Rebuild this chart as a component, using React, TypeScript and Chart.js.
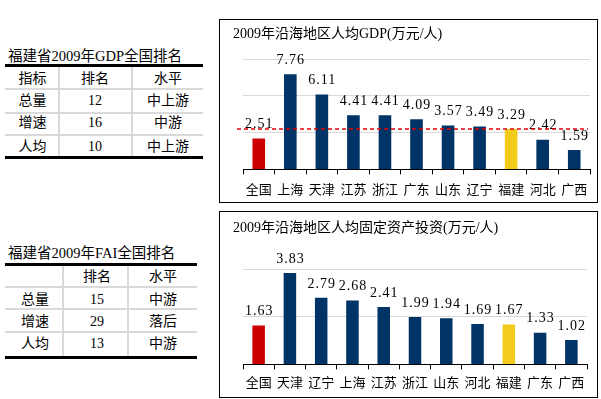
import React, { useEffect, useRef } from "react";
import { Chart, registerables } from "chart.js";
Chart.register(...registerables);

const FONT = '"Liberation Serif", "Noto Sans CJK SC", serif';

// ---- data ----
const gdpCategories = ["全国", "上海", "天津", "江苏", "浙江", "广东", "山东", "辽宁", "福建", "河北", "广西"];
const gdpValues = [2.51, 7.76, 6.11, 4.41, 4.41, 4.09, 3.57, 3.49, 3.29, 2.42, 1.59];
const gdpReference = 3.29; // 福建 level, dashed line
const gdpTitle = "2009年沿海地区人均GDP(万元/人)";

const faiCategories = ["全国", "天津", "辽宁", "上海", "江苏", "浙江", "山东", "河北", "福建", "广东", "广西"];
const faiValues = [1.63, 3.83, 2.79, 2.68, 2.41, 1.99, 1.94, 1.69, 1.67, 1.33, 1.02];
const faiTitle = "2009年沿海地区人均固定资产投资(万元/人)";

const gdpTableTitle = "福建省2009年GDP全国排名";
const gdpTableHeader = ["指标", "排名", "水平"];
const gdpTableRows = [
  ["总量", "12", "中上游"],
  ["增速", "16", "中游"],
  ["人均", "10", "中上游"],
];
const faiTableTitle = "福建省2009年FAI全国排名";
const faiTableHeader = ["", "排名", "水平"];
const faiTableRows = [
  ["总量", "15", "中游"],
  ["增速", "29", "落后"],
  ["人均", "13", "中游"],
];

const NAVY = "#003366";
const RED = "#CC0000";
const YELLOW = "#F2CB1B";

function barColor(cat: string) {
  if (cat === "全国") return RED;
  if (cat === "福建") return YELLOW;
  return NAVY;
}

const valueLabels = {
  id: "valueLabels",
  afterDatasetsDraw(chart: any) {
    const ctx = chart.ctx;
    const meta = chart.getDatasetMeta(0);
    const data = chart.data.datasets[0].data;
    ctx.save();
    ctx.font = "14px " + FONT;
    ctx.fillStyle = "#000";
    ctx.textAlign = "center";
    ctx.textBaseline = "middle";
    try { (ctx as any).letterSpacing = "1px"; } catch (e) {}
    meta.data.forEach((el: any, i: number) => {
      ctx.fillText(Number(data[i]).toFixed(2), el.x + 0.5, el.y - 14);
    });
    ctx.restore();
  },
};

function makeRefLine(value: number | null) {
  return {
    id: "refLine",
    afterDatasetsDraw(chart: any) {
      if (value === null) return;
      const { ctx, chartArea, scales } = chart;
      const y = Math.round(scales.y.getPixelForValue(value));
      ctx.save();
      ctx.strokeStyle = "#E60000";
      ctx.lineWidth = 1.5;
      ctx.setLineDash([4, 3]);
      ctx.beginPath();
      ctx.moveTo(chartArea.left - 6, y);
      ctx.lineTo(chartArea.right - 2, y);
      ctx.stroke();
      ctx.restore();
    },
  };
}

type BarProps = {
  categories: string[];
  values: number[];
  max: number;
  step: number;
  ref_: number | null;
  padding: { left: number; right: number; top: number; bottom: number };
  tickPad: number;
  w: number;
  h: number;
};

function BarChart({ categories, values, max, step, ref_, padding, tickPad, w, h }: BarProps) {
  const canvasRef = useRef<HTMLCanvasElement | null>(null);
  useEffect(() => {
    if (!canvasRef.current) return;
    const chart = new Chart(canvasRef.current, {
      type: "bar",
      data: {
        labels: categories,
        datasets: [
          {
            data: values,
            backgroundColor: categories.map(barColor),
            borderWidth: 0,
            categoryPercentage: 1,
            barPercentage: 0.4,
          },
        ],
      },
      options: {
        animation: false,
        responsive: false,
        maintainAspectRatio: false,
        layout: { padding },
        plugins: {
          legend: { display: false },
          tooltip: { enabled: false },
          title: { display: false },
        },
        scales: {
          x: {
            grid: {
              offset: true,
              drawOnChartArea: false,
              drawTicks: true,
              tickLength: 5,
              color: "#000",
            },
            border: { color: "#000", width: 1 },
            ticks: {
              color: "#000",
              font: { family: FONT, size: 13 },
              padding: tickPad,
              maxRotation: 0,
              autoSkip: false,
            },
          },
          y: {
            min: 0,
            max,
            ticks: { display: false, stepSize: step },
            border: { display: false },
            grid: {
              drawTicks: false,
              color: (c: any) => (c.tick && c.tick.value === 0 ? "rgba(0,0,0,0)" : "#D9D9D9"),
              lineWidth: 1,
            },
          },
        },
      },
      plugins: [valueLabels, makeRefLine(ref_)],
    });
    return () => chart.destroy();
  }, []);
  return <canvas ref={canvasRef} width={w} height={h} style={{ display: "block", width: w, height: h }} />;
}

function ChartBox({ left, top, width, height, title, titleY, children }: any) {
  return (
    <div
      style={{
        position: "absolute",
        left,
        top,
        width,
        height,
        border: "1px solid #000",
        boxSizing: "border-box",
        background: "#fff",
        overflow: "hidden",
      }}
    >
      <div style={{ position: "absolute", left: -1, top: -1 }}>{children}</div>
      <div
        style={{
          position: "absolute",
          left: 13,
          top: titleY,
          transform: "translateY(-50%)",
          font: "14px " + FONT,
          lineHeight: "16px",
          whiteSpace: "nowrap",
          color: "#000",
        }}
      >
        {title}
      </div>
    </div>
  );
}

function Txt({ x, y, text, size = 14, align = "center" }: any) {
  return (
    <div
      style={{
        position: "absolute",
        left: x,
        top: y,
        transform: align === "center" ? "translate(-50%,-50%)" : "translateY(-50%)",
        font: size + "px " + FONT,
        lineHeight: "16px",
        whiteSpace: "nowrap",
        color: "#000",
      }}
    >
      {text}
    </div>
  );
}

function HLine({ x1, x2, y, h, color }: any) {
  return <div style={{ position: "absolute", left: x1, top: y - h / 2, width: x2 - x1, height: h, background: color }} />;
}
function VLine({ x, y1, y2, w, color }: any) {
  return <div style={{ position: "absolute", left: x - w / 2, top: y1, width: w, height: y2 - y1, background: color }} />;
}

function RankTable({ title, header, rows, L }: any) {
  const els: any[] = [];
  els.push(<Txt key="t" x={8} y={L.titleY} text={title} size={14.5} align="left" />);
  els.push(<VLine key="v1" x={L.vx[0]} y1={L.topLine} y2={L.bottomLine} w={2} color="#D9D9D9" />);
  els.push(<VLine key="v2" x={L.vx[1]} y1={L.topLine} y2={L.bottomLine} w={2} color="#D9D9D9" />);
  L.grey.forEach((g: number, i: number) =>
    els.push(<HLine key={"g" + i} x1={L.x1} x2={L.x2} y={g} h={2} color="#D9D9D9" />)
  );
  els.push(<HLine key="top" x1={L.x1} x2={L.x2} y={L.topLine} h={3} color="#000" />);
  els.push(<HLine key="bot" x1={L.x1} x2={L.x2} y={L.bottomLine} h={3} color="#000" />);
  header.forEach((h: string, i: number) => els.push(<Txt key={"h" + i} x={L.cx[i]} y={L.headerY} text={h} />));
  rows.forEach((r: string[], ri: number) =>
    r.forEach((c: string, ci: number) =>
      els.push(<Txt key={"r" + ri + "_" + ci} x={L.cx[ci]} y={L.rowY[ri]} text={c} />)
    )
  );
  return <>{els}</>;
}

export default function App() {
  return (
    <div style={{ position: "absolute", left: 0, top: 0, width: 601, height: 399, background: "#fff", overflow: "hidden" }}>
      <RankTable
        title={gdpTableTitle}
        header={gdpTableHeader}
        rows={gdpTableRows}
        L={{
          titleY: 55.5,
          x1: 5,
          x2: 203,
          topLine: 65.7,
          bottomLine: 157.3,
          headerY: 78.7,
          grey: [89.3, 112.7, 135],
          rowY: [100.7, 123.3, 146.7],
          vx: [59.3, 131.7],
          cx: [32.5, 95, 168],
        }}
      />
      <RankTable
        title={faiTableTitle}
        header={faiTableHeader}
        rows={faiTableRows}
        L={{
          titleY: 253,
          x1: 5,
          x2: 197,
          topLine: 264.3,
          bottomLine: 357.7,
          headerY: 276.7,
          grey: [286.7, 309, 331.7],
          rowY: [300.3, 322.3, 344.3],
          vx: [62.7, 128.3],
          cx: [35, 97, 163],
        }}
      />
      <ChartBox left={219} top={19} width={379} height={184} title={gdpTitle} titleY={14}>
        <BarChart
          categories={gdpCategories}
          values={gdpValues}
          max={9}
          step={3}
          ref_={gdpReference}
          padding={{ left: 24, right: 8, top: 40, bottom: -3 }}
          tickPad={8}
          w={379}
          h={184}
        />
      </ChartBox>
      <ChartBox left={219} top={211} width={379} height={187} title={faiTitle} titleY={15.5}>
        <BarChart
          categories={faiCategories}
          values={faiValues}
          max={4}
          step={2}
          ref_={null}
          padding={{ left: 24, right: 11, top: 58, bottom: 1 }}
          tickPad={6}
          w={379}
          h={187}
        />
      </ChartBox>
    </div>
  );
}
